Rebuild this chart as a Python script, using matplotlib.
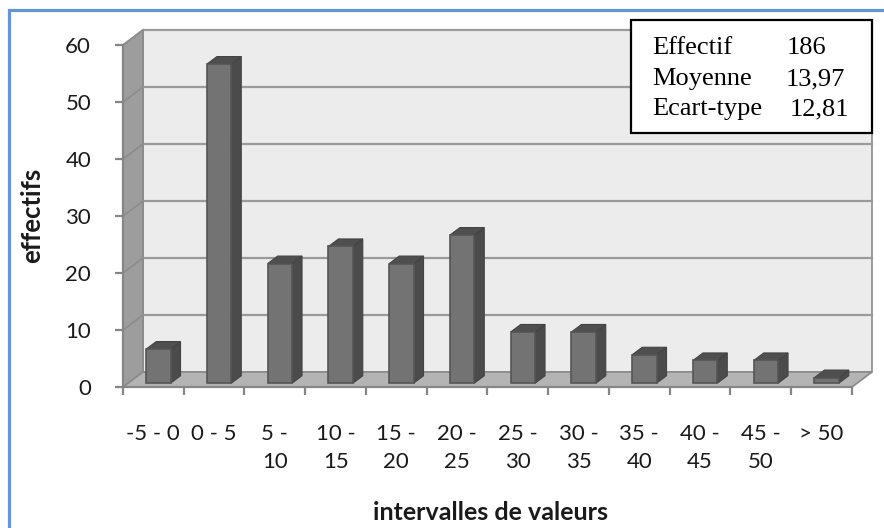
import matplotlib
matplotlib.use("Agg")
import matplotlib.pyplot as plt
from matplotlib.patches import Polygon, Rectangle

# ---- data -------------------------------------------------------------
categories = ["-5 - 0", "0 - 5", "5 -\n10", "10 -\n15", "15 -\n20", "20 -\n25",
              "25 -\n30", "30 -\n35", "35 -\n40", "40 -\n45", "45 -\n50", "> 50"]
counts = [6, 56, 21, 24, 21, 26, 9, 9, 5, 4, 4, 1]
y_ticks = [0, 10, 20, 30, 40, 50, 60]
stats_labels = ["Effectif", "Moyenne", "Ecart-type"]
stats_values = ["186", "13,97", "12,81"]

# ---- figure / front plane -------------------------------------------
W, H = 884, 528
fig = plt.figure(figsize=(W / 100, H / 100), dpi=100)


def fx(px):
    return px / W


def fy(py):
    return 1 - py / H


SANS = "Lato"
AX_L, AX_R, AX_T, AX_B = 123, 852, 45, 387
ax = fig.add_axes([fx(AX_L), fy(AX_B), fx(AX_R) - fx(AX_L), fy(AX_T) - fy(AX_B)])
n = len(categories)
ymax = y_ticks[-1]
ax.set_xlim(0, n)
ax.set_ylim(0, ymax)
ax.patch.set_visible(False)

# depth of the pseudo-3D box, in data units (20 px right, 15 px up)
DX = 20 / ((AX_R - AX_L) / n)
DY = 15 / ((AX_B - AX_T) / ymax)

WALL = "#ececec"
SIDE = "#9d9d9d"
FLOOR = "#b4b4b4"
GRID = "#9a9a9a"
EDGE = "#8a8a8a"


def poly(pts, fc, ec=None, lw=0.0, z=1):
    p = Polygon(pts, closed=True, facecolor=fc, edgecolor=ec if ec else fc,
                linewidth=lw, clip_on=False, zorder=z)
    ax.add_patch(p)


# back wall, left wall, floor
poly([(DX, DY), (n + DX, DY), (n + DX, ymax + DY), (DX, ymax + DY)], WALL, EDGE, 1.2, 0.5)
poly([(0, 0), (DX, DY), (DX, ymax + DY), (0, ymax)], SIDE, EDGE, 1.2, 0.6)
poly([(0, 0), (n, 0), (n + DX, DY), (DX, DY)], FLOOR, EDGE, 1.2, 0.7)

# gridlines on the back and side walls
for t in y_ticks[1:]:
    ax.plot([DX, n + DX], [t + DY, t + DY], color=GRID, lw=1.6, clip_on=False, zorder=0.8)
    ax.plot([0, DX], [t, t + DY], color="#8c8c8c", lw=1.2, clip_on=False, zorder=0.8)

# bars: front face, right side, top
FRONT_C = "#737373"
SIDE_C = "#4b4b4b"
TOP_C = "#4f4f4f"
BAR_EDGE = "#555555"
bw = 0.4
d0, d1 = 0.25, 0.75
for i, v in enumerate(counts):
    x0 = i + 0.5 - bw / 2
    x1 = i + 0.5 + bw / 2
    fx0, fx1 = x0 + d0 * DX, x1 + d0 * DX
    fb, ft = d0 * DY, v + d0 * DY
    ddx, ddy = (d1 - d0) * DX, (d1 - d0) * DY
    poly([(fx1, fb), (fx1 + ddx, fb + ddy), (fx1 + ddx, ft + ddy), (fx1, ft)],
         SIDE_C, "#444444", 0.8, 2)
    poly([(fx0, ft), (fx1, ft), (fx1 + ddx, ft + ddy), (fx0 + ddx, ft + ddy)],
         TOP_C, "#444444", 0.8, 2)
    poly([(fx0, fb), (fx1, fb), (fx1, ft), (fx0, ft)], FRONT_C, BAR_EDGE, 1.2, 2.1)

# ---- axes, ticks, labels --------------------------------------------
for s in ("top", "right"):
    ax.spines[s].set_visible(False)
for s in ("left", "bottom"):
    ax.spines[s].set_color("#868686")
    ax.spines[s].set_linewidth(1.6)
    ax.spines[s].set_zorder(3)

ax.set_yticks(y_ticks)
ax.set_yticklabels([str(t) for t in y_ticks], fontfamily=SANS, fontsize=16, color="#1a1a1a")
ax.tick_params(axis="y", length=6, width=1.6, color="#868686", pad=17)

ax.set_xticks(range(n + 1))
ax.set_xticklabels([""] * (n + 1))
ax.tick_params(axis="x", which="major", length=6, width=1.6, color="#868686")
ax.set_xticks([i + 0.5 for i in range(n)], minor=True)
ax.set_xticklabels(categories, minor=True, fontfamily=SANS, fontsize=16,
                   color="#1a1a1a", linespacing=1.45)
ax.tick_params(axis="x", which="minor", length=0, pad=27)

ax.set_xlabel("intervalles de valeurs", fontfamily=SANS, fontsize=18,
              fontweight="bold", color="#1a1a1a")
ax.xaxis.label.set_va("center")
ax.xaxis.set_label_coords((491 - AX_L) / (AX_R - AX_L), (AX_B - 513) / (AX_B - AX_T))
ax.set_ylabel("effectifs", fontfamily=SANS, fontsize=18.5, fontweight="bold",
              color="#1a1a1a")
ax.yaxis.label.set_va("center")
ax.yaxis.set_label_coords((32 - AX_L) / (AX_R - AX_L), (AX_B - 215) / (AX_B - AX_T))

# ---- statistics box ---------------------------------------------------
fig.patches.append(Rectangle((fx(631), fy(133)), fx(872) - fx(631), fy(20) - fy(133),
                             transform=fig.transFigure, facecolor="white",
                             edgecolor="black", linewidth=1.6, zorder=5))
baselines = [54, 85, 115]
value_x = [787, 786, 790]
for lab, val, by, vx in zip(stats_labels, stats_values, baselines, value_x):
    fig.text(fx(652), fy(by), lab, fontfamily="Liberation Serif", fontsize=19,
             va="baseline", ha="left", zorder=6)
    fig.text(fx(vx), fy(by), val, fontfamily="Liberation Serif", fontsize=19,
             va="baseline", ha="left", zorder=6)

# ---- outer chart border ----------------------------------------------
fig.patches.append(Rectangle((fx(9), fy(H + 20)), fx(W + 20) - fx(9), fy(10) - fy(H + 20),
                             transform=fig.transFigure, facecolor="none",
                             edgecolor="#6296dc", linewidth=2.3, zorder=10))

fig.savefig("out.png", dpi=100)
